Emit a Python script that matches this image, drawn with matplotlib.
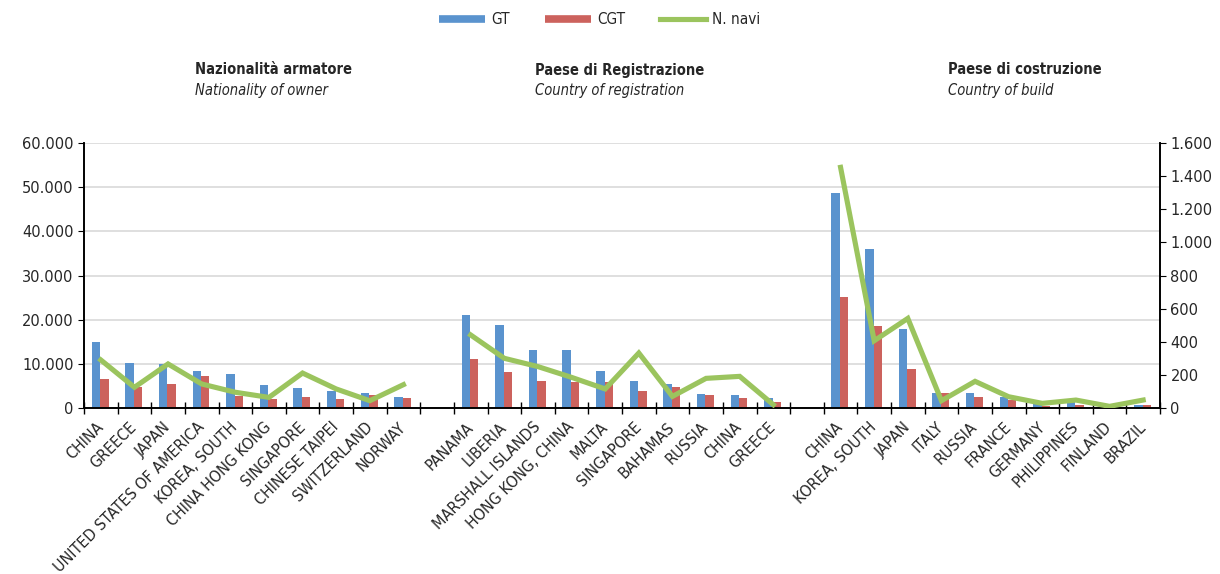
import matplotlib.pyplot as plt
import numpy as np
from matplotlib.ticker import FuncFormatter, FixedLocator
from matplotlib.lines import Line2D

# owner nationality
owner = ["CHINA", "GREECE", "JAPAN", "UNITED STATES OF AMERICA", "KOREA, SOUTH",
         "CHINA HONG KONG", "SINGAPORE", "CHINESE TAIPEI", "SWITZERLAND", "NORWAY"]
owner_gt = [14900, 10300, 10000, 8450, 7700, 5200, 4500, 3900, 3500, 2600]
owner_cgt = [6600, 4700, 5400, 7200, 2800, 2000, 2600, 2000, 2900, 2300]
owner_n = [290, 125, 266, 145, 95, 64, 211, 115, 44, 141]

# country of registration
reg = ["PANAMA", "LIBERIA", "MARSHALL ISLANDS", "HONG KONG, CHINA", "MALTA",
       "SINGAPORE", "BAHAMAS", "RUSSIA", "CHINA", "GREECE"]
reg_gt = [21000, 18700, 13200, 13200, 8300, 6200, 5400, 3200, 2900, 2300]
reg_cgt = [11000, 8100, 6200, 5800, 5800, 3800, 4800, 2900, 2300, 1300]
reg_n = [441, 300, 250, 185, 115, 332, 70, 179, 191, 20]

# country of build
build = ["CHINA", "KOREA, SOUTH", "JAPAN", "ITALY", "RUSSIA", "FRANCE",
         "GERMANY", "PHILIPPINES", "FINLAND", "BRAZIL"]
build_gt = [48600, 36000, 17900, 3300, 3300, 2400, 900, 1300, 200, 700]
build_cgt = [25100, 18500, 8800, 3500, 2600, 1700, 500, 700, 150, 700]
build_n = [1453, 406, 541, 44, 161, 68, 28, 48, 10, 48]

titles = [("Nazionalità armatore", "Nationality of owner"),
          ("Paese di Registrazione", "Country of registration"),
          ("Paese di costruzione", "Country of build")]

BLUE = "#5A93CE"
RED = "#CC625D"
GREEN = "#9BC45E"
TXT = "#262626"

# one empty slot between the three blocks
labels = owner + [""] + reg + [""] + build
gt = owner_gt + [np.nan] + reg_gt + [np.nan] + build_gt
cgt = owner_cgt + [np.nan] + reg_cgt + [np.nan] + build_cgt
navi = owner_n + [np.nan] + reg_n + [np.nan] + build_n
x = np.arange(len(labels))

plt.rcParams['font.family'] = 'DejaVu Sans'

fig = plt.figure(figsize=(12.2, 5.74), dpi=100)
ax = fig.add_axes([84 / 1220, 1 - 408 / 574, (1160 - 84) / 1220, (408 - 143) / 574])
ax2 = ax.twinx()

w = 0.25
ax.bar(x - w / 2 - 0.02, gt, width=w, color=BLUE, zorder=2)
ax.bar(x + w / 2 - 0.02, cgt, width=w, color=RED, zorder=2)
ax2.plot(x, navi, color=GREEN, lw=3.7, solid_joinstyle='miter', zorder=3)

ax.set_xlim(-0.5, len(labels) - 0.5)
ax.set_ylim(0, 60000)
ax2.set_ylim(0, 1600)
ax.set_yticks(np.arange(0, 60001, 10000))
ax2.set_yticks(np.arange(0, 1601, 200))


def dot_thousands(v, pos):
    return "{:,.0f}".format(v).replace(",", ".")


ax.yaxis.set_major_formatter(FuncFormatter(dot_thousands))
ax2.yaxis.set_major_formatter(FuncFormatter(dot_thousands))

ax.yaxis.grid(True, color="#d9d9d9", lw=1.2, zorder=0)
ax.set_axisbelow(True)

ax.set_xticks(x)
ax.set_xticklabels(labels, rotation=45, ha='right', va='center',
                   rotation_mode='anchor', fontsize=11.5, fontstretch='condensed',
                   color=TXT)
ax.tick_params(axis='x', which='major', length=0, pad=12)
ax.xaxis.set_minor_locator(FixedLocator(np.arange(-0.5, len(labels), 1)))
ax.tick_params(axis='x', which='minor', direction='inout', length=8, width=1)

ax.tick_params(axis='y', direction='out', length=4, labelsize=10.5, labelcolor=TXT)
ax2.tick_params(axis='y', direction='out', length=4, labelsize=10.5, labelcolor=TXT)

for a in (ax, ax2):
    a.spines['top'].set_visible(False)
    a.spines['left'].set_linewidth(1.2)
    a.spines['right'].set_linewidth(1.2)
    a.spines['bottom'].set_linewidth(1.2)

# block headings
for (it, en), xp in zip(titles, [195, 535, 948]):
    fig.text(xp / 1220, 1 - 70 / 574, it, fontsize=10.5, fontweight='bold',
             fontstretch='condensed', color=TXT, va='center')
    fig.text(xp / 1220, 1 - 91 / 574, en, fontsize=10.5, style='italic',
             fontstretch='condensed', color=TXT, va='center')

handles = [Line2D([], [], color=BLUE, lw=5.5, solid_capstyle='butt'),
           Line2D([], [], color=RED, lw=5.5, solid_capstyle='butt'),
           Line2D([], [], color=GREEN, lw=3.7)]
leg = fig.legend(handles, ["GT", "CGT", "N. navi"], loc='center', ncol=3,
                 bbox_to_anchor=(600 / 1220, 1 - 20 / 574), frameon=False,
                 prop={'size': 11, 'stretch': 'condensed'}, handlelength=3.0,
                 columnspacing=2.3, handletextpad=0.4)
for t in leg.get_texts():
    t.set_color(TXT)

fig.savefig("out.png", dpi=100)
